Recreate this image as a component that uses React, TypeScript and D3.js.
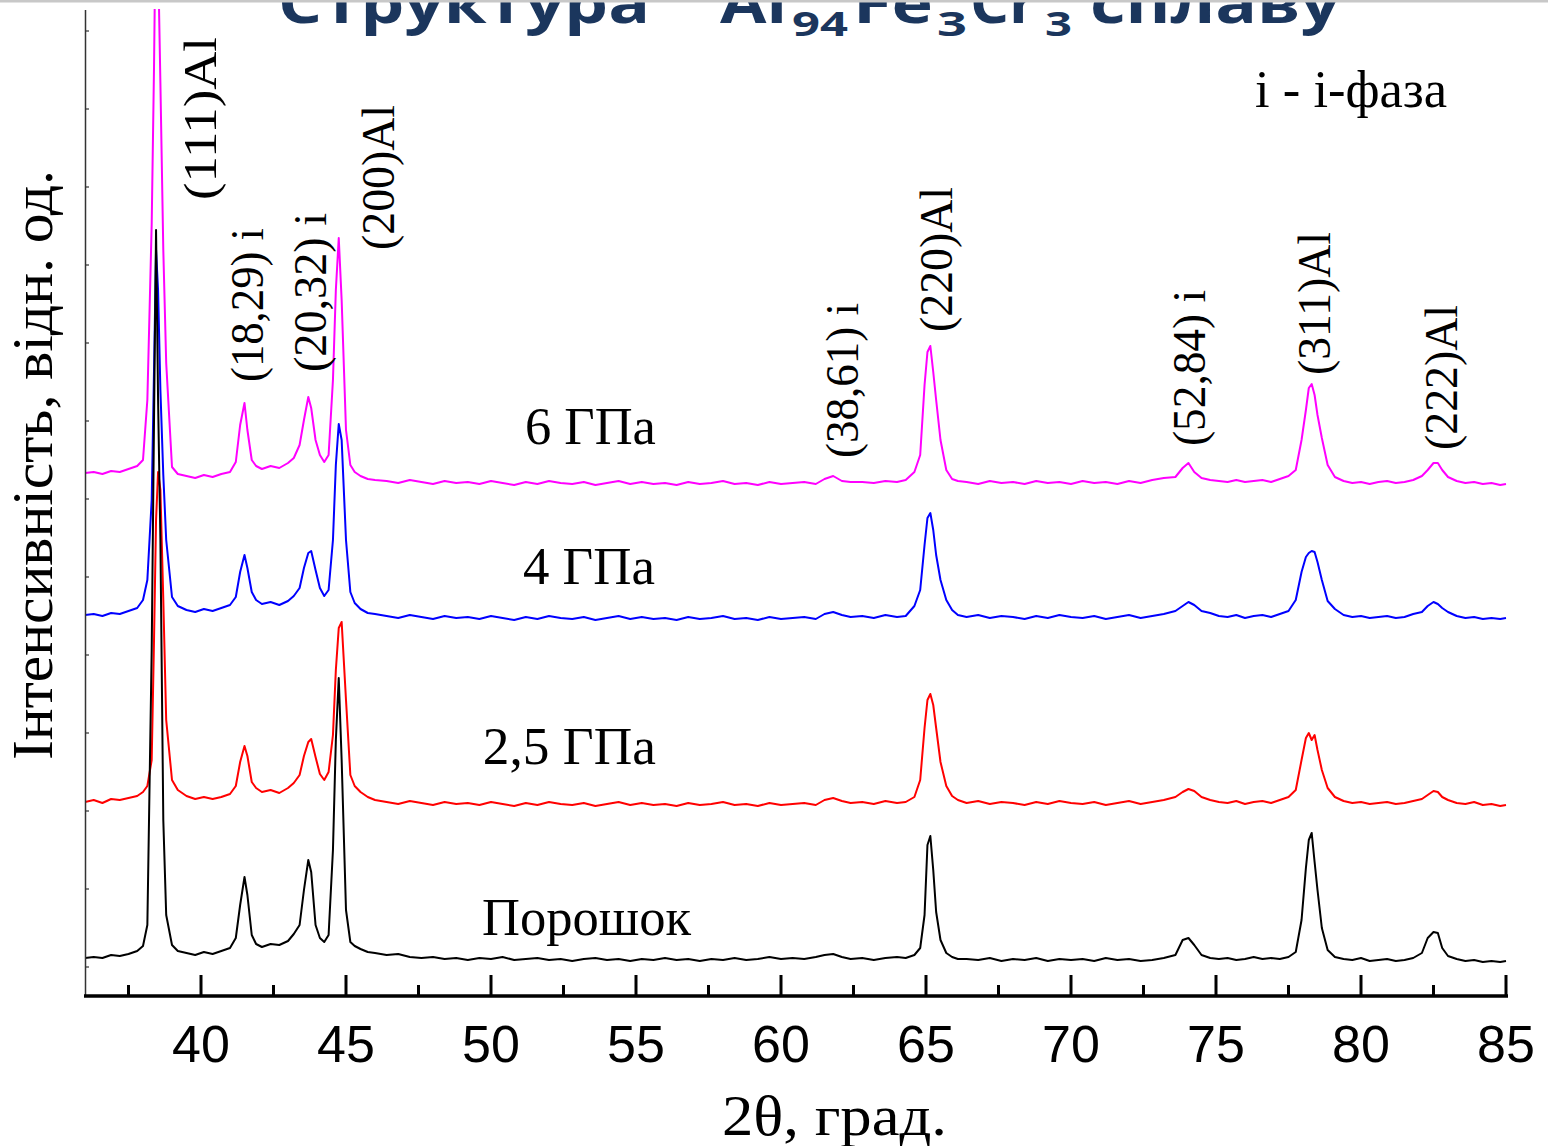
import React from "react";
import * as d3 from "d3";

// 2θ grid (deg) – denser around the reflections
const twoTheta = [
  36.0, 36.3, 36.6, 36.9, 37.2, 37.5, 37.8,
  38.0, 38.15, 38.3, 38.38, 38.45, 38.52, 38.6, 38.7, 38.8, 39.0,
  39.2, 39.5, 39.8, 40.1, 40.4, 40.7, 41.0,
  41.2, 41.35, 41.5, 41.6, 41.75, 41.9,
  42.1, 42.4, 42.7, 43.0, 43.2,
  43.4, 43.55, 43.7, 43.8, 43.95, 44.1, 44.25, 44.4, 44.55, 44.65, 44.75, 44.85, 45.0, 45.15, 45.3, 45.5, 45.75, 46.0,
  46.4, 46.8, 47.2, 47.6, 48.0, 48.4, 48.8, 49.2, 49.6, 50.0, 50.4, 50.8, 51.2, 51.6, 52.0, 52.4, 52.8, 53.2, 53.6,
  54.0, 54.4, 54.8, 55.2, 55.6, 56.0, 56.4, 56.8, 57.2, 57.6, 58.0, 58.4, 58.8, 59.2, 59.6, 60.0, 60.4, 60.8, 61.2,
  61.5, 61.8, 62.1, 62.4,
  62.8, 63.2, 63.6, 64.0, 64.3,
  64.6, 64.8, 64.95, 65.05, 65.15, 65.25, 65.35, 65.5, 65.7, 65.9, 66.1,
  66.4, 66.8, 67.2, 67.6, 68.0, 68.4, 68.8, 69.2, 69.6, 70.0, 70.4, 70.8, 71.2, 71.6, 72.0, 72.4, 72.8, 73.2,
  73.6, 73.85, 74.05, 74.25, 74.5, 74.8,
  75.1, 75.4, 75.7, 76.0, 76.3, 76.6, 76.9, 77.2, 77.5,
  77.75, 77.95, 78.1, 78.2, 78.3, 78.4, 78.5, 78.65, 78.85, 79.1,
  79.4, 79.7, 80.0, 80.3, 80.6, 80.9, 81.2, 81.5, 81.8, 82.1,
  82.3, 82.5, 82.65, 82.8, 83.0,
  83.3, 83.6, 83.9, 84.2, 84.5, 84.8, 85.0,
];

// intensities, arb. units (patterns already shifted vertically)
const powder = [
  9, 10, 9, 12, 11, 13, 16,
  21, 42, 317, 547, 737, 567, 427, 147, 52, 22,
  16, 14, 12, 15, 13, 16, 19,
  29, 62, 90, 72, 32, 23,
  20, 23, 22, 26, 33,
  42, 77, 107, 95, 42, 29, 25, 32, 117, 227, 289, 207, 57, 25, 21, 18, 15, 14,
  12, 13, 10, 9, 10, 8, 9, 7, 9, 8, 10, 7, 8, 9, 7, 8, 6, 8, 9, 7,
  8, 6, 8, 7, 9, 7, 8, 6, 8, 7, 9, 7, 8, 10, 8, 9, 8, 10,
  12, 13, 10, 8,
  9, 7, 9, 10, 9,
  12, 19, 52, 122, 131, 97, 55, 27, 14, 10, 8,
  8, 7, 9, 6, 8, 7, 9, 6, 8, 7, 8, 6, 9, 7, 8, 6, 7, 9,
  12, 27, 29, 22, 12, 9,
  8, 9, 7, 8, 10, 8, 9, 8, 10,
  15, 47, 99, 127, 134, 105, 77, 39, 17, 10,
  8, 7, 9, 6, 7, 8, 6, 7, 9, 14,
  29, 35, 34, 19, 11,
  8, 6, 7, 5, 6, 5, 6,
];

const gpa25 = [
  165, 167, 164, 168, 167, 169, 171,
  175, 181, 207, 327, 447, 495, 477, 367, 247, 187,
  177, 171, 168, 170, 168, 170, 173,
  181, 205, 221, 211, 185, 179,
  175, 177, 174, 179, 184,
  192, 211, 225, 228, 210, 193, 187, 195, 232, 297, 339, 345, 267, 192, 181, 175, 170, 167,
  165, 163, 166, 164, 162, 165, 163, 164, 162, 165, 163, 161, 164, 162, 165, 163, 162, 164, 161,
  163, 165, 162, 164, 162, 163, 161, 164, 162, 163, 165, 162, 163, 161, 164, 162, 163, 164, 162,
  167, 169, 166, 164,
  165, 163, 166, 164, 165,
  170, 187, 239, 267, 273, 262, 239, 205, 181, 171, 167,
  164, 166, 163, 165, 164, 162, 165, 163, 166, 164, 163, 165, 162, 164, 166, 163, 165, 167,
  170, 175, 178, 176, 170, 167,
  165, 164, 166, 163, 165, 166, 164, 167, 170,
  177, 207, 229, 234, 227, 232, 217, 197, 179, 170,
  166, 164, 165, 163, 164, 165, 163, 164, 166, 168,
  172, 176, 175, 170, 167,
  164, 163, 165, 162, 163, 161, 162,
];

const gpa4 = [
  352, 353, 351, 354, 353, 356, 359,
  367, 387, 467, 597, 717, 677, 577, 492, 427, 370,
  361, 357, 355, 358, 356, 359, 362,
  370, 395, 412, 399, 375, 367,
  363, 365, 362, 366, 371,
  379, 399, 414, 416, 397, 379, 371, 377, 427, 502, 543, 527, 427, 375, 364, 358, 354, 353,
  351, 349, 352, 350, 348, 351, 349, 350, 348, 351, 349, 347, 350, 348, 351, 349, 348, 350, 347,
  349, 351, 348, 350, 348, 349, 347, 350, 348, 349, 351, 348, 349, 347, 350, 348, 349, 350, 348,
  353, 355, 352, 350,
  351, 349, 352, 350, 351,
  361, 377, 422, 449, 454, 437, 412, 387, 367, 357, 352,
  350, 352, 349, 351, 350, 348, 351, 349, 352, 350, 349, 351, 348, 350, 352, 349, 351, 353,
  356, 361, 365, 362, 356, 354,
  351, 350, 352, 349, 351, 352, 350, 353, 356,
  367, 395, 410, 414, 416, 415, 405, 387, 366, 358,
  352, 350, 351, 349, 350, 351, 349, 350, 353, 355,
  361, 365, 363, 359, 355,
  351, 349, 350, 348, 349, 348, 349,
];

const gpa6 = [
  494, 495, 493, 496, 495, 498, 501,
  507, 567, 743, 900, 1080, 1010, 884, 717, 604, 500,
  493, 491, 489, 492, 490, 493, 495,
  505, 542, 564, 537, 507, 501,
  498, 501, 499, 504, 509,
  522, 547, 570, 559, 527, 512, 505, 512, 587, 677, 729, 667, 537, 502, 495, 491, 488, 487,
  486, 484, 487, 485, 483, 486, 484, 485, 483, 486, 484, 482, 485, 483, 486, 484, 483, 485, 482,
  484, 486, 483, 485, 483, 484, 482, 485, 483, 484, 486, 483, 484, 482, 485, 483, 484, 485, 483,
  488, 491, 486, 485,
  485, 484, 486, 485, 487,
  495, 512, 582, 615, 621, 595, 567, 527, 497, 488, 486,
  485, 483, 486, 484, 485, 483, 486, 484, 485, 483, 486, 484, 485, 483, 486, 484, 487, 489,
  490, 499, 504, 495, 489, 487,
  486, 485, 487, 485, 486, 487, 485, 488, 491,
  497, 527, 557, 579, 583, 572, 552, 529, 502, 490,
  486, 484, 485, 483, 485, 486, 484, 485, 487, 491,
  497, 504, 504, 497, 490,
  486, 484, 485, 483, 484, 482, 483,
];

const seriesColors = ["#ff00ff", "#0000ff", "#ff0000", "#000000"];
const seriesNames = ["6 ГПа", "4 ГПа", "2,5 ГПа", "Порошок"];

const xTicks = [40, 45, 50, 55, 60, 65, 70, 75, 80, 85];
const xMinorTicks = [37.5, 42.5, 47.5, 52.5, 57.5, 62.5, 67.5, 72.5, 77.5, 82.5];
const yTicks = [0, 78, 156, 234, 312, 390, 468, 546, 624, 702, 780, 858, 936];

// reflection labels: text, 2θ of the baseline, intensity where the text starts
const peakText = ["(111)Al", "(18,29) i", "(20,32) i", "(200)Al", "(38,61) i", "(220)Al", "(52,84) i", "(311)Al", "(222)Al"];
const peakAt = [40.52, 42.14, 44.31, 46.66, 62.66, 65.9, 74.62, 78.93, 83.31];
const peakLevel = [767, 585, 595, 717, 509, 635, 521, 592, 517];
const peakLen = [163, 154, 159, 145, 155, 145, 156, 143, 145];

// series name labels: 2θ of text start, intensity of baseline
const nameAt = [51.17, 51.1, 49.72, 49.69];
const nameLevel = [523, 383, 203, 32];
const nameLen = [131, 132, 173, 209];

const W = 1548;
const H = 1146;
const serif = "'Liberation Serif', 'Times New Roman', serif";
const sans = "'Liberation Sans', Arial, sans-serif";

export default function App() {
  const x = d3.scaleLinear().domain([36, 85]).range([85, 1506]);
  const y = d3.scaleLinear().domain([-29, 957]).range([996, 10]);

  const line = d3
    .line<number>()
    .x((_, i) => x(twoTheta[i]))
    .y((d) => y(d));

  const series = [gpa6, gpa4, gpa25, powder];
  const titleColor = "#1b365d";
  const fit = { lengthAdjust: "spacingAndGlyphs" as const };

  return (
    <svg width={W} height={H} style={{ position: "absolute", left: 0, top: 0, background: "#fff" }}>
      <defs>
        <clipPath id="plot">
          <rect x={85} y={9} width={1422} height={987} />
        </clipPath>
      </defs>
      <rect width={W} height={H} fill="#fff" />

      {/* title, cut by the top edge as in the slide */}
      <g fill={titleColor} fontFamily="'Open Sans', sans-serif" fontWeight={700}>
        <text x={278} y={23} fontSize={56} textLength={372} {...fit}>Структура</text>
        <text x={720} y={23} fontSize={56} textLength={67} {...fit}>Al</text>
        <text x={792} y={36} fontSize={34} textLength={56} {...fit}>94</text>
        <text x={853} y={23} fontSize={56} textLength={80} {...fit}>Fe</text>
        <text x={937} y={36} fontSize={34} textLength={30} {...fit}>3</text>
        <text x={970} y={23} fontSize={56} textLength={67} {...fit}>Cr</text>
        <text x={1045} y={36} fontSize={34} textLength={27} {...fit}>3</text>
        <text x={1090} y={23} fontSize={56} textLength={250} {...fit}>сплаву</text>
      </g>

      {/* data */}
      <g clipPath="url(#plot)" fill="none" strokeWidth={2} strokeLinejoin="round">
        {series.map((s, i) => (
          <path key={i} d={line(s) || ""} stroke={seriesColors[i]} />
        ))}
      </g>

      {/* axes */}
      <line x1={85.5} x2={85.5} y1={10} y2={996} stroke="#333" strokeWidth={1.5} />
      {yTicks.map((t) => (
        <line key={t} x1={85} x2={89} y1={y(t)} y2={y(t)} stroke="#333" strokeWidth={1.2} />
      ))}
      <line x1={84} x2={1508} y1={996} y2={996} stroke="#000" strokeWidth={3.5} />
      {xTicks.map((t) => (
        <line key={t} x1={x(t)} x2={x(t)} y1={996} y2={975} stroke="#000" strokeWidth={3} />
      ))}
      {xMinorTicks.map((t) => (
        <line key={t} x1={x(t)} x2={x(t)} y1={996} y2={985} stroke="#000" strokeWidth={3} />
      ))}
      {xTicks.map((t) => (
        <text key={t} x={x(t)} y={1062} textAnchor="middle" fontFamily={sans} fontSize={52}>
          {t}
        </text>
      ))}
      <text x={722} y={1135} fontFamily={serif} fontSize={58} textLength={225} {...fit}>
        2θ, град.
      </text>
      <text
        transform={`translate(52,760) rotate(-90)`}
        fontFamily={serif}
        fontSize={58}
        textLength={590}
        {...fit}
      >
        Інтенсивність, відн. од.
      </text>

      {/* reflection labels */}
      {peakText.map((t, i) => (
        <text
          key={t}
          transform={`translate(${x(peakAt[i])},${y(peakLevel[i])}) rotate(-90)`}
          fontFamily={serif}
          fontSize={46}
          textLength={peakLen[i]}
          {...fit}
        >
          {t}
        </text>
      ))}

      {/* series labels */}
      {seriesNames.map((n, i) => (
        <text
          key={n}
          x={x(nameAt[i])}
          y={y(nameLevel[i])}
          fontFamily={serif}
          fontSize={52}
          textLength={nameLen[i]}
          {...fit}
        >
          {n}
        </text>
      ))}
      <text x={1255} y={107} fontFamily={serif} fontSize={52} textLength={192} {...fit}>
        i - i-фаза
      </text>

      <rect x={0} y={0} width={W} height={2.5} fill="#c8c8c8" />
    </svg>
  );
}
